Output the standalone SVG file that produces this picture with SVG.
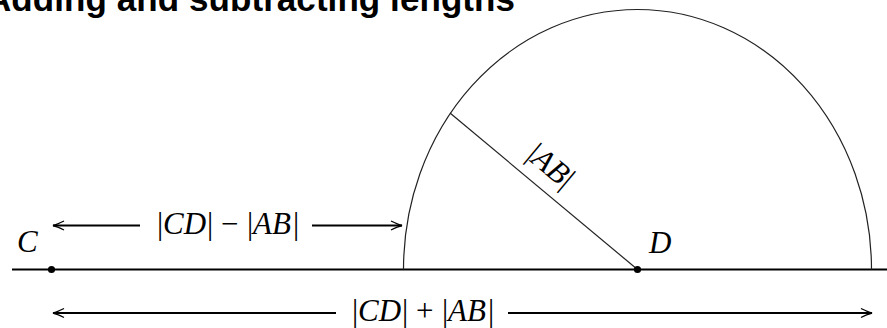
<svg xmlns="http://www.w3.org/2000/svg" width="887" height="328" viewBox="0 0 887 328">
<defs>
<marker id="ah" markerWidth="14" markerHeight="12" refX="12" refY="6" orient="auto-start-reverse" markerUnits="userSpaceOnUse">
<path d="M1 1.5 Q8 5 12 6 Q8 7 1 10.5" fill="none" stroke="#000" stroke-width="1.3"/>
</marker>
<style>
.title{font-family:"Liberation Sans",Arial,sans-serif;font-weight:bold;font-size:35px;fill:#000}
.m{font-family:"Liberation Serif","Times New Roman",serif;font-size:31px;fill:#000}
.i{font-style:italic}
.thick{stroke:#000;stroke-width:2.2;fill:none}
.arr{stroke:#000;stroke-width:2;fill:none}
.thin{stroke:#222;stroke-width:1.2;fill:none}
</style>
</defs>
<text class="title" x="-14" y="11" textLength="529" lengthAdjust="spacing">Adding and subtracting lengths</text>

<g id="baseline">
<line class="thick" x1="12" y1="269.5" x2="887" y2="269.5"/>
</g>
<g id="arc">
<path class="thin" d="M403.5 269.5 A234 260 0 0 1 871.5 269.5"/>
</g>
<g id="radius">
<line class="thin" x1="637.5" y1="269.5" x2="450" y2="113"/>
<text class="m" font-size="30" transform="translate(551,166) rotate(39.8)" text-anchor="middle" y="10">|<tspan class="i">AB</tspan>|</text>
</g>
<g id="C">
<circle cx="51.5" cy="269.5" r="3.6" fill="#000"/>
<text class="m i" x="17" y="252">C</text>
</g>
<g id="D">
<circle cx="637.5" cy="269.5" r="3.6" fill="#000"/>
<text class="m i" x="649" y="253">D</text>
</g>

<g id="connectors">
<line class="arr" x1="140" y1="225.5" x2="53" y2="225.5" marker-end="url(#ah)"/>
<line class="arr" x1="312" y1="225.5" x2="402" y2="225.5" marker-end="url(#ah)"/>
<line class="arr" x1="336" y1="313" x2="53" y2="313" marker-end="url(#ah)"/>
<line class="arr" x1="508" y1="313" x2="872" y2="313" marker-end="url(#ah)"/>
</g>

<g id="label-diff">
<text class="m" y="234"><tspan x="157">|</tspan><tspan class="i" x="163">CD</tspan><tspan x="207">|</tspan><tspan x="221">−</tspan><tspan x="247">|</tspan><tspan class="i" x="253">AB</tspan><tspan x="293">|</tspan></text>
</g>
<g id="label-sum">
<text class="m" y="321"><tspan x="352">|</tspan><tspan class="i" x="358">CD</tspan><tspan x="402">|</tspan><tspan x="416">+</tspan><tspan x="442">|</tspan><tspan class="i" x="448">AB</tspan><tspan x="488">|</tspan></text>
</g>
</svg>
